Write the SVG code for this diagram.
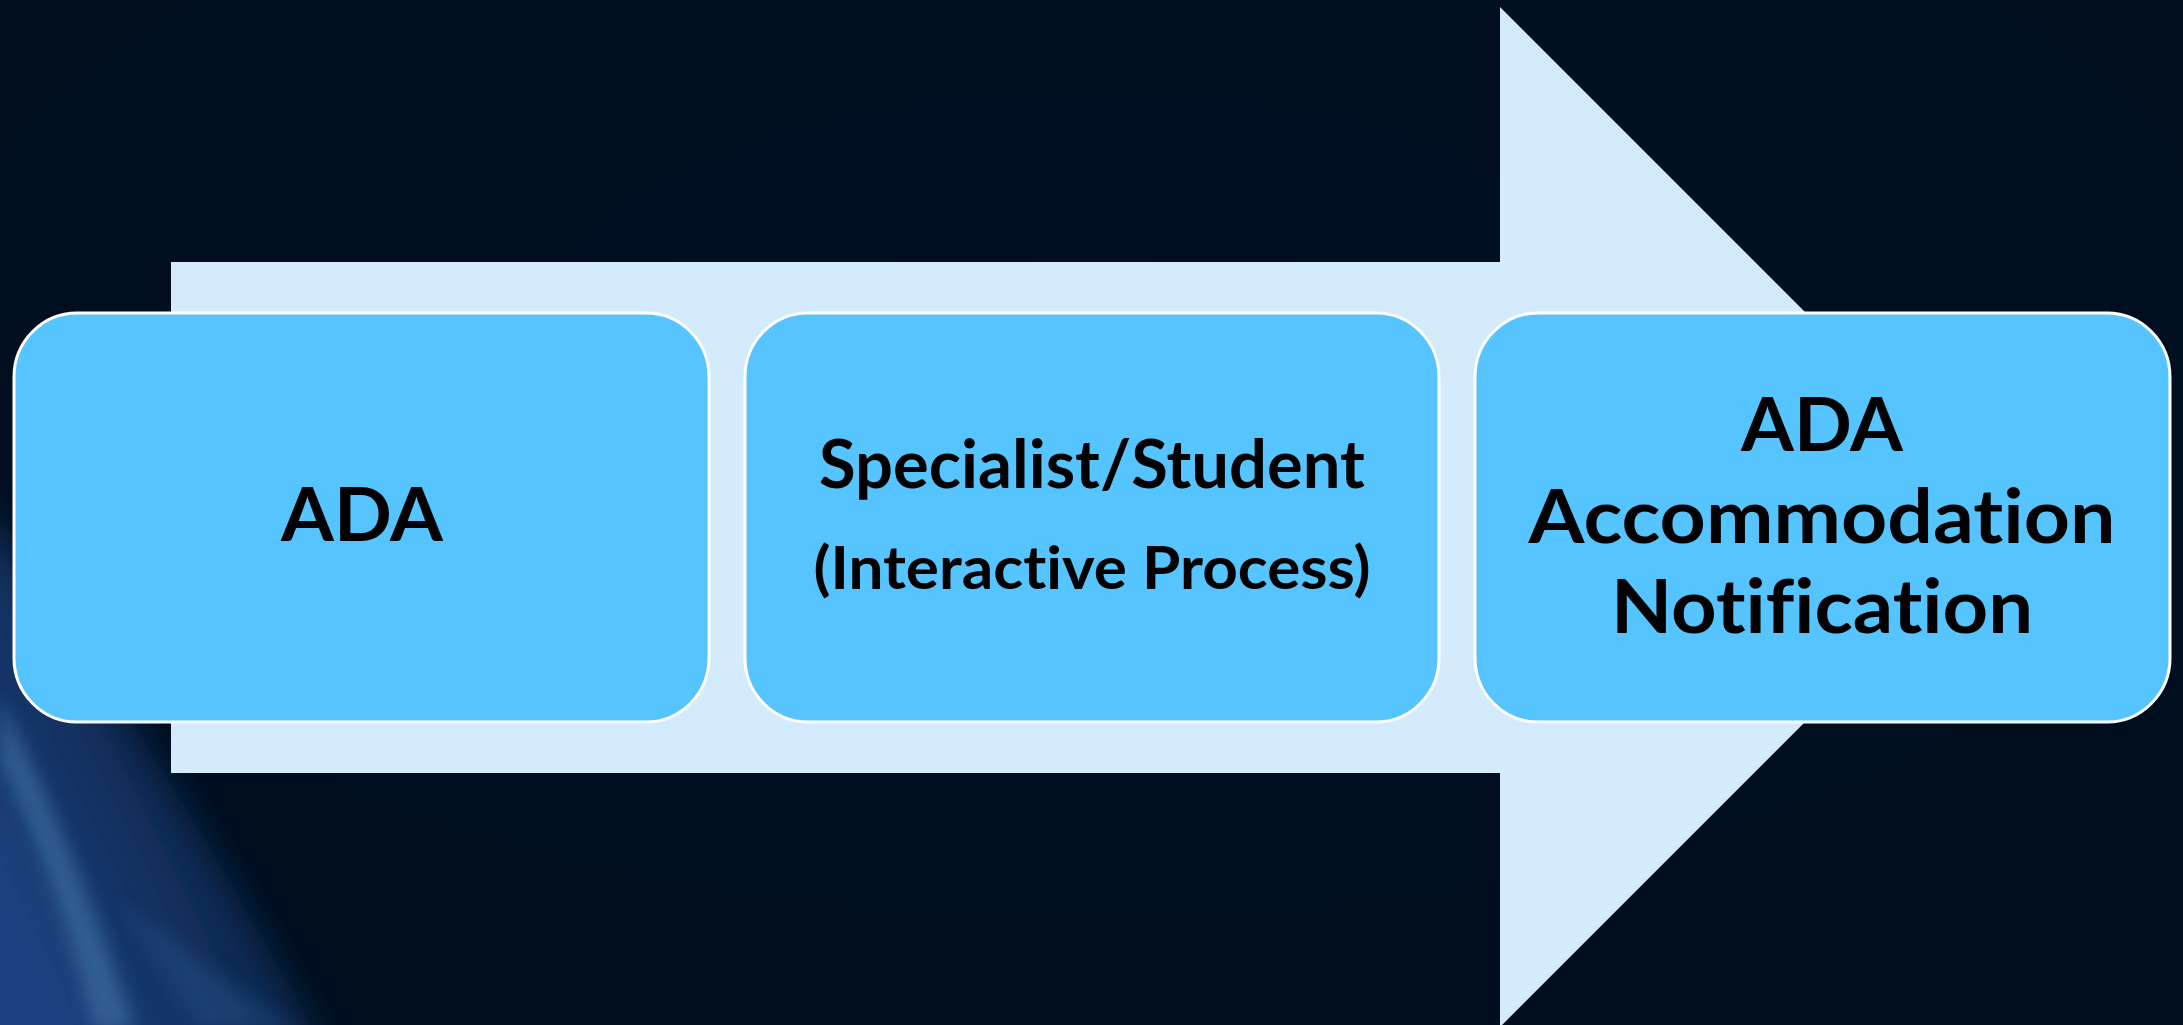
<svg xmlns="http://www.w3.org/2000/svg" width="2183" height="1025" viewBox="0 0 2183 1025">
  <defs>
    <style>
      .node rect { fill: #56c4ff; stroke: #ffffff; stroke-width: 3; }
      .lbl { font-family: Lato, "Open Sans", "Liberation Sans", sans-serif; font-weight: bold; fill: #000000; text-anchor: middle; font-variant-ligatures: none; font-feature-settings: "liga" 0, "clig" 0, "dlig" 0; }
    </style>
    <radialGradient id="bg" cx="0.5" cy="0.35" r="0.9">
      <stop offset="0" stop-color="#010f22"/>
      <stop offset="1" stop-color="#000d1e"/>
    </radialGradient>
    <linearGradient id="glowArea" gradientUnits="userSpaceOnUse" x1="0" y1="900" x2="420" y2="700">
      <stop offset="0" stop-color="#1d4588" stop-opacity="0.95"/>
      <stop offset="0.45" stop-color="#163a70" stop-opacity="0.6"/>
      <stop offset="1" stop-color="#0a1f45" stop-opacity="0"/>
    </linearGradient>
    <filter id="soft" x="-0.3" y="-0.3" width="1.6" height="1.6">
      <feGaussianBlur stdDeviation="18"/>
    </filter>
    <filter id="soft2" x="-0.3" y="-0.3" width="1.6" height="1.6">
      <feGaussianBlur stdDeviation="9"/>
    </filter>
  </defs>

  <rect x="0" y="0" width="2183" height="1025" fill="url(#bg)"/>
  <g id="background-glow">
    <path d="M-40,480 C80,640 220,850 330,1060 L-40,1060 Z" fill="url(#glowArea)" filter="url(#soft)"/>
    <path d="M0,700 C50,800 100,920 135,1030 L95,1030 C70,930 35,830 0,760 Z" fill="#4a7bb0" opacity="0.55" filter="url(#soft2)"/>
    <path d="M120,900 C200,960 250,1000 300,1030 L200,1030 C170,990 150,950 120,900 Z" fill="#2b5a95" opacity="0.35" filter="url(#soft2)"/>
  </g>

  <g id="connectors">
    <polygon id="big-arrow" points="171,262 1500,262 1500,7 2010,517 1500,1027 1500,773 171,773" fill="#d4eafd"/>
  </g>

  <g id="node-ada" class="node">
    <rect x="14" y="313" width="695" height="409" rx="63" ry="64"/>
    <text class="lbl" x="362" y="541" font-size="75" textLength="162" lengthAdjust="spacingAndGlyphs">ADA</text>
  </g>

  <g id="node-specialist" class="node">
    <rect x="745" y="313" width="694" height="409" rx="63" ry="64"/>
    <text class="lbl" x="1092" y="488" font-size="66" textLength="546" lengthAdjust="spacingAndGlyphs">Specialist/Student</text>
    <text class="lbl" x="1092" y="589" font-size="60" textLength="557" lengthAdjust="spacingAndGlyphs">(Interactive Process)</text>
  </g>

  <g id="node-notification" class="node">
    <rect x="1475" y="313" width="695" height="409" rx="63" ry="64"/>
    <text class="lbl" x="1822" y="451" font-size="75" textLength="162" lengthAdjust="spacingAndGlyphs">ADA</text>
    <text class="lbl" x="1822" y="543" font-size="75" textLength="587" lengthAdjust="spacingAndGlyphs">Accommodation</text>
    <text class="lbl" x="1822" y="633" font-size="75" textLength="422" lengthAdjust="spacingAndGlyphs">Notification</text>
  </g>
</svg>
